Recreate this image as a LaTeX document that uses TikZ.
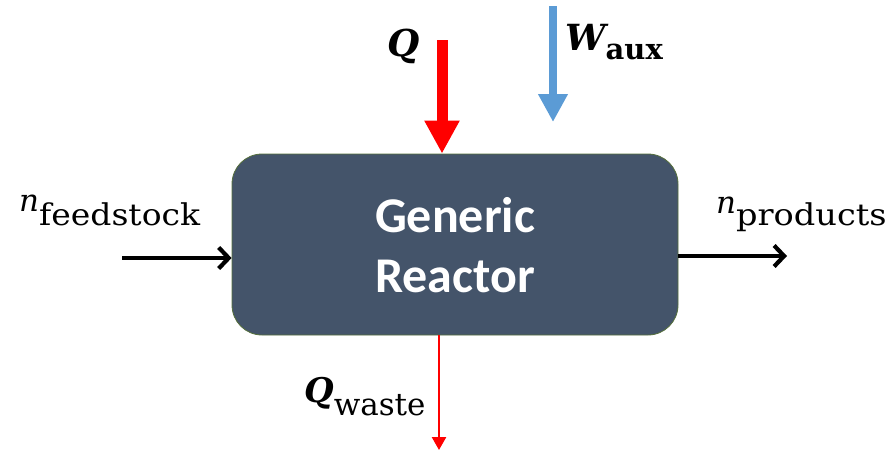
\documentclass[tikz,border=0pt]{standalone}
\usepackage{fontspec}
\setmainfont{DejaVu Serif}
\newfontfamily\boxfont{Carlito}
\usetikzlibrary{arrows.meta}
\definecolor{boxfill}{HTML}{44546A}
\definecolor{boxline}{HTML}{56703C}
\definecolor{heatred}{HTML}{FF0000}
\definecolor{workblue}{HTML}{5B9BD5}
\tikzset{
  reactor/.style={draw=boxline, line width=0.8pt, fill=boxfill, rounded corners=30pt,
    minimum width=446pt, minimum height=181pt, inner sep=0pt},
  boxtext/.style={text=white, font=\boxfont\bfseries\fontsize{50}{60}\selectfont, anchor=base, inner sep=0pt},
  flow/.style={draw=black, line width=4.2pt, -{Straight Barb[length=10pt,width=21pt,line width=4.2pt]}},
  heatin/.style={draw=heatred, line width=11pt, -{Triangle[length=33pt,width=33pt]}},
  workin/.style={draw=workblue, line width=8.5pt, -{Triangle[length=28pt,width=28pt]}},
  heatout/.style={draw=heatred, line width=2.5pt, -{Triangle[length=13pt,width=14pt]}},
  lbl/.style={anchor=base west, inner sep=0pt}
}
\begin{document}
\begin{tikzpicture}[x=1pt,y=-1pt]
\useasboundingbox (0,0) rectangle (894,453);
\node[reactor] (box) at (455,244.5) {};
\node[boxtext] (gen) at (455,232) {Generic};
\node[boxtext] (rea) at (455,292) {Reactor};

\coordinate (fin) at (122,258);
\coordinate (pout) at (787,256);
\coordinate (qtop) at (442,40);
\coordinate (wtop) at (553,6);
\coordinate (wtip) at (553,122);
\coordinate (qwtip) at (439,450);

\draw[flow] (fin) -- (fin -| box.west);
\draw[flow] (pout -| box.east) -- (pout);
\draw[heatin] (qtop) -- (qtop |- box.north);
\draw[workin] (wtop) -- (wtip);
\draw[heatout] (qwtip |- box.south) -- (qwtip);

\node[lbl] (nfeed) at (19,211) {\fontsize{31}{31}\selectfont\itshape n\fontsize{30}{30}\selectfont\upshape\raisebox{-14pt}{\scalebox{1.1}[1]{feedstock}}};
\node[lbl] (nprod) at (716,213) {\fontsize{31}{31}\selectfont\itshape n\fontsize{30}{30}\selectfont\upshape\raisebox{-12pt}{\scalebox{1.12}[1]{products}}};
\node[lbl] (qlab) at (387,56) {\fontsize{37}{37}\selectfont\bfseries\itshape Q};
\node[lbl] (wlab) at (565,50) {\fontsize{36}{36}\selectfont\bfseries\itshape W\fontsize{29}{29}\selectfont\upshape\raisebox{-9pt}{aux}};
\node[lbl] (qwlab) at (304,402) {\fontsize{34}{34}\selectfont\bfseries\itshape Q\fontsize{31}{31}\selectfont\mdseries\upshape\raisebox{-13pt}{waste}};
\end{tikzpicture}
\end{document}
